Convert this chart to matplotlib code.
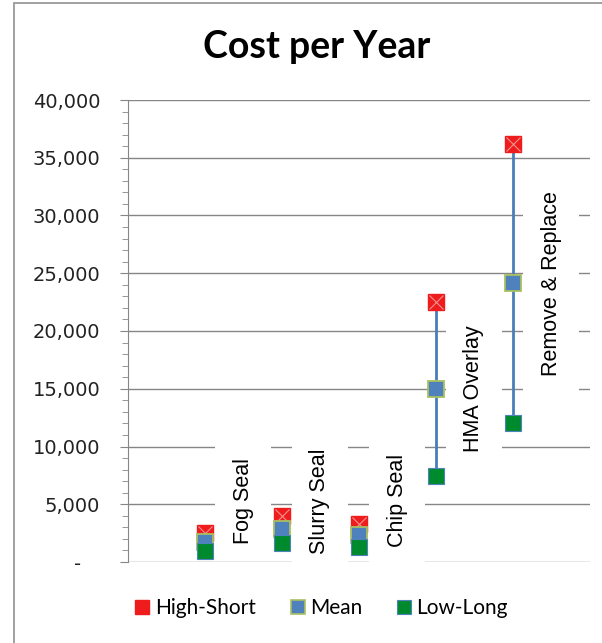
import numpy as np
import matplotlib.pyplot as plt
from matplotlib.lines import Line2D
from matplotlib.patches import Rectangle
from matplotlib.ticker import FuncFormatter, MultipleLocator

# dados
tratamentos = ["Fog Seal", "Slurry Seal", "Chip Seal", "HMA Overlay", "Remove & Replace"]
high_short = [2500, 4000, 3300, 22500, 36200]
mean = [1750, 2900, 2300, 15000, 24150]
low_long = [950, 1650, 1300, 7450, 12050]

cinza = "#868686"

fig = plt.figure(figsize=(6.02, 6.43), dpi=100)
ax = fig.add_axes([128 / 602, 1 - 562 / 643, 462 / 602, 462 / 643])

# moldura do grafico
fig.patches.append(Rectangle((14 / 602, -0.1), 1.2, 1.1 - 3 / 643, transform=fig.transFigure,
                             fill=False, edgecolor="#9a9a9a", lw=1.3))

x = np.arange(1, len(tratamentos) + 1)

# linhas alta-baixa
ax.vlines(x, low_long, high_short, color="#4A7EBB", lw=2, zorder=2)

# series
ax.plot(x, high_short, ls="none", marker="s", ms=12, mfc="#EE1C1C", mec="#EE1C1C", zorder=3)
ax.plot(x, high_short, ls="none", marker="x", ms=10, mec="#F59090", mew=0.8, zorder=3)
ax.plot(x, mean, ls="none", marker="s", ms=11.5, mfc="#4F81BD", mec="#A8C060", mew=1.3, zorder=4)
ax.plot(x, low_long, ls="none", marker="s", ms=12, mfc="#008A2E", mec="#4F81BD", mew=0.8, zorder=5)

# rotulos dos tratamentos
for xi, m, nome in zip(x, mean, tratamentos):
    ax.annotate(nome, (xi, max(m, 5300)), xytext=(38, 0), textcoords="offset pixels",
                rotation=90, ha="center", va="center", fontsize=15.5, family="Liberation Sans",
                bbox=dict(boxstyle="square,pad=0.8", fc="white", ec="none"), zorder=6)

ax.set_xlim(0, 6)
ax.set_ylim(0, 40000)
ax.set_xticks([])
ax.yaxis.set_major_locator(MultipleLocator(5000))
ax.yaxis.set_minor_locator(MultipleLocator(1000))
ax.yaxis.set_major_formatter(FuncFormatter(lambda v, p: "-   " if v == 0 else f"{v:,.0f}"))
ax.tick_params(axis="y", which="major", direction="out", length=6, color=cinza, pad=14,
               labelsize=14, labelcolor="#222222")
ax.tick_params(axis="y", which="minor", direction="out", length=4, color=cinza)
ax.grid(axis="y", color=cinza, lw=1)
ax.set_axisbelow(True)
for s in ["top", "right", "bottom"]:
    ax.spines[s].set_visible(False)
ax.spines["left"].set_color(cinza)

fig.text(317 / 602, 1 - 47 / 643, "Cost per Year", ha="center", va="center",
         fontsize=27, fontweight="bold", family="Lato")

handles = [
    Line2D([], [], ls="none", marker="s", ms=10, mfc="#EE1C1C", mec="#EE1C1C"),
    Line2D([], [], ls="none", marker="s", ms=10, mfc="#4F81BD", mec="#A8C060", mew=1.2),
    Line2D([], [], ls="none", marker="s", ms=10, mfc="#008A2E", mec="#4F81BD", mew=0.8),
]
fig.legend(handles, ["High-Short", "Mean", "Low-Long"], loc="center", ncol=3,
           bbox_to_anchor=(320 / 602, 1 - 608 / 643), frameon=False,
           prop={"family": "Lato", "size": 15}, handletextpad=0.1, columnspacing=1.5,
           handlelength=1.0)

fig.savefig("out.png", dpi=100, facecolor="white")
